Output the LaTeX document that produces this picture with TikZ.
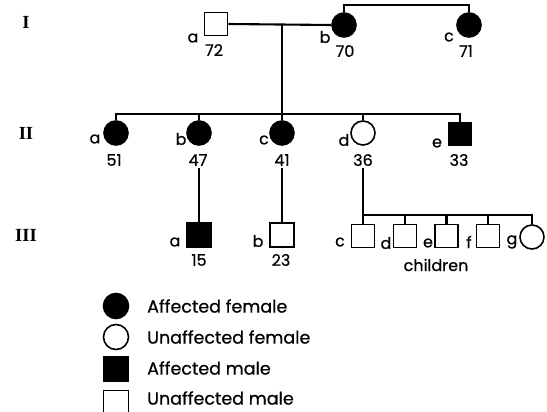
\documentclass[tikz,border=0pt]{standalone}
\usepackage{fontspec}
\setmainfont{Poppins}[FakeBold=0.6]
\newfontfamily\romfont{Liberation Serif}
\begin{document}
\begin{tikzpicture}[x=1pt,y=-1pt,
  ln/.style={line width=2.1pt},
  fem/.style={circle,draw,line width=1.6pt,minimum size=24pt,inner sep=0pt},
  mal/.style={rectangle,draw,line width=1.6pt,minimum size=23pt,inner sep=0pt},
  aff/.style={fill=black},
  una/.style={fill=white},
  lab/.style={font=\fontsize{16}{16}\selectfont,inner sep=0pt},
  num/.style={font=\fontsize{16}{16}\selectfont,inner sep=0pt},
  gen/.style={font=\romfont\bfseries\fontsize{18.5}{18.5}\selectfont,inner sep=0pt},
  leg/.style={font=\fontsize{17.5}{17.5}\selectfont,inner sep=0pt,anchor=west}]
\useasboundingbox (0,0) rectangle (547,412);
\clip (0,0) rectangle (547,412);
% generation labels
\node[gen] (gI) at (26,22) {I};
\node[gen] (gII) at (26,133) {II};
\node[gen] (gIII) at (26,235) {III};
% generation I
\node[mal,una] (Ia) at (216,24) {};
\node[fem,aff] (Ib) at (344,25) {};
\node[fem,aff] (Ic) at (469,25) {};
\node[lab] (Ial) at (193,38) {a};
\node[num] (Ian) at (214,50) {72};
\node[lab] (Ibl) at (325,37) {b};
\node[num] (Ibn) at (345,51) {70};
\node[lab] (Icl) at (449,37) {c};
\node[num] (Icn) at (466,51) {71};
\coordinate (m1) at (282,24);
\coordinate (top) at (0,5);
\draw[ln] (Ia.east) -- (Ib.west);
\draw[ln] (Ib.north) -- (Ib.north |- top) -- (Ic.north |- top) -- (Ic.north);
\coordinate (s2) at (282,114);
\draw[ln] (m1) -- (s2);
% generation II
\node[fem,aff] (IIa) at (116,133) {};
\node[fem,aff] (IIb) at (199,133) {};
\node[fem,aff] (IIc) at (282,133) {};
\node[fem,una] (IId) at (363,133) {};
\node[mal,aff] (IIe) at (460,134) {};
\node[lab] (IIal) at (95,139) {a};
\node[num] (IIan) at (114,160) {51};
\node[lab] (IIbl) at (181,139) {b};
\node[num] (IIbn) at (198,160) {47};
\node[lab] (IIcl) at (264,140) {c};
\node[num] (IIcn) at (282,160) {41};
\node[lab] (IIdl) at (344,140) {d};
\node[num] (IIdn) at (363,160) {36};
\node[lab] (IIel) at (437,143) {e};
\node[num] (IIen) at (459,160) {33};
\draw[ln] (IIa.north) -- (IIa.north |- s2) -- (IIe.north |- s2) -- (IIe.north);
\draw[ln] (IIb.north) -- (IIb.north |- s2);
\draw[ln] (IIc.north) -- (IIc.north |- s2);
\draw[ln] (IId.north) -- (IId.north |- s2);
% generation III
\coordinate (d2) at (0,168);
\node[mal,aff,minimum size=24pt] (IIIa) at (199,235) {};
\node[mal,una,minimum size=24pt] (IIIb) at (282,235) {};
\node[mal,una] (IIIc) at (363,236) {};
\node[mal,una] (IIId) at (405,236) {};
\node[mal,una] (IIIe) at (446.5,236) {};
\node[mal,una] (IIIf) at (488,236) {};
\node[fem,una] (IIIg) at (532,237) {};
\node[lab] (IIIal) at (175,242) {a};
\node[num] (IIIan) at (199,260) {15};
\node[lab] (IIIbl) at (258,241) {b};
\node[num] (IIIbn) at (281,260) {23};
\node[lab] (IIIcl) at (340,242) {c};
\node[lab] (IIIdl) at (386,243) {d};
\node[lab] (IIIel) at (428,243) {e};
\node[lab] (IIIfl) at (469,242) {f};
\node[lab] (IIIgl) at (512,242) {g};
\node[num] (chl) at (436,265) {children};
\draw[ln] (IIIa.north |- d2) -- (IIIa.north);
\draw[ln] (IIIb.north |- d2) -- (IIIb.north);
\coordinate (s3) at (0,215);
\draw[ln] (IIIc.north |- d2) -- (IIIc.north |- s3) -- (IIIg.north |- s3) -- (IIIg.north);
\draw[ln] (IIIc.north |- s3) -- (IIIc.north);
\draw[ln] (IIId.north |- s3) -- (IIId.north);
\draw[ln] (IIIe.north |- s3) -- (IIIe.north);
\draw[ln] (IIIf.north |- s3) -- (IIIf.north);
% legend
\node[fem,aff,minimum size=25pt] (L1) at (116,306) {};
\node[fem,una,minimum size=25pt] (L2) at (116,337) {};
\node[mal,aff,minimum size=25pt] (L3) at (116,369) {};
\node[mal,una,minimum size=25pt] (L4) at (116,403) {};
\node[leg] (L1t) at (147,306) {Affected female};
\node[leg] (L2t) at (147,337) {Unaffected female};
\node[leg] (L3t) at (147,368) {Affected male};
\node[leg] (L4t) at (147,398) {Unaffected male};
\end{tikzpicture}
\end{document}
